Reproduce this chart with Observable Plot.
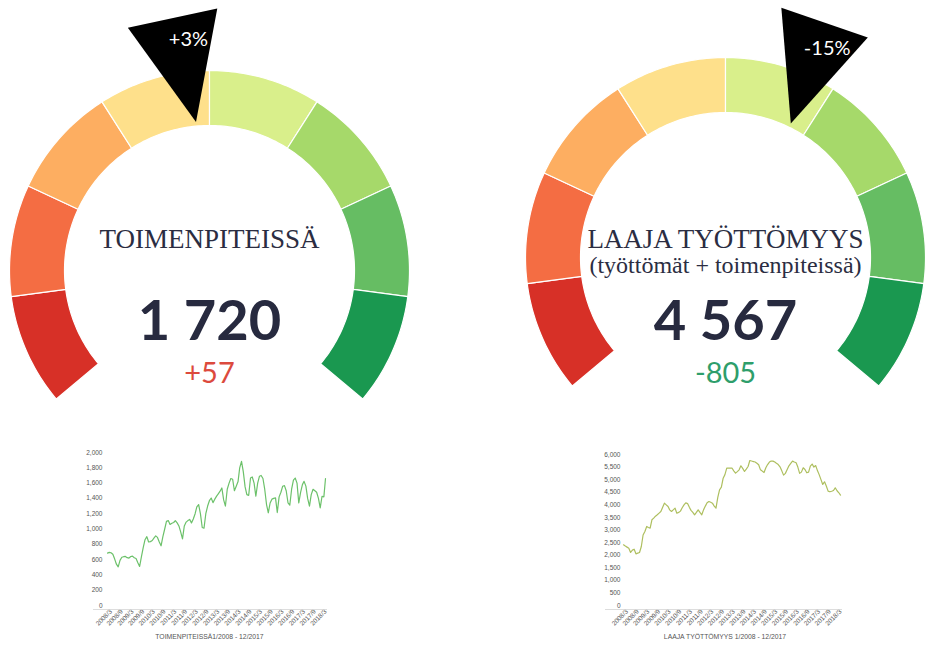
<!DOCTYPE html>
<html><head><meta charset="utf-8">
<script src="https://cdn.jsdelivr.net/npm/d3@7"></script>
<script src="https://cdn.jsdelivr.net/npm/@observablehq/plot@0.6"></script>
<style>
html,body{margin:0;padding:0;background:#fff;}
#root{position:relative;width:939px;height:654px;overflow:hidden;background:#fff;}
.p{position:absolute;}
.p svg{overflow:visible;}
</style></head><body><div id="root"></div>
<script>
// ---------- DATA ----------
const gaugeColors = ["#d73027","#f46d43","#fdae61","#fee08b","#d9ef8b","#a6d96a","#66bd63","#1a9850"];
const gaugeTitles = ["TOIMENPITEISSÄ", "LAAJA TYÖTTÖMYYS"];
const gaugeSubtitles = ["", "(työttömät + toimenpiteissä)"];
const gaugeValues = [1720, 4567];
const gaugeChanges = [57, -805];
const gaugePct = [3, -15];

// monthly values 2008/1 ... 2018/3
const toimenpiteissa = [
  685, 695, 690, 670, 610, 540, 505, 590, 630, 638, 641, 625,
  620, 640, 645, 625, 615, 560, 510, 640, 760, 860, 900, 830,
  835, 850, 880, 910, 890, 830, 780, 900, 1000, 1100, 1110, 1060,
  1075, 1085, 1110, 1080, 1040, 960, 870, 1040, 1090, 1110, 1125, 1080,
  1130, 1200, 1290, 1320, 1200, 1020, 1010, 1200, 1300, 1370, 1405, 1345,
  1390, 1430, 1460, 1494, 1537, 1380, 1300, 1520, 1600, 1660, 1650, 1500,
  1560, 1620, 1800, 1884, 1750, 1550, 1450, 1440, 1666, 1680, 1600, 1428,
  1600, 1690, 1700, 1660, 1520, 1320, 1212, 1340, 1390, 1400, 1407, 1215,
  1420, 1480, 1558, 1567, 1500, 1340, 1311, 1520, 1640, 1666, 1600, 1342,
  1480, 1580, 1623, 1560, 1400, 1299, 1450, 1519, 1500, 1480, 1400, 1277,
  1428, 1420, 1660
];
const laajaTyottomyys = [
  2410, 2360, 2320, 2277, 2106, 2200, 2238, 2053, 2080, 2106, 2345, 2800,
  2940, 3140, 3100, 3073, 3405, 3470, 3550, 3604, 3670, 3736, 3900, 4066,
  4000, 3934, 3800, 3736, 3800, 3867, 3668, 3700, 3750, 3882, 4000, 4081,
  4050, 3900, 3780, 3700, 3604, 3700, 3803, 3700, 3604, 3800, 3950, 4080,
  4133, 4100, 4066, 3950, 3867, 4300, 4598, 4700, 5059, 5200, 5456, 5460,
  5456, 5456, 5350, 5258, 5320, 5390, 5552, 5450, 5325, 5420, 5524, 5762,
  5740, 5720, 5700, 5650, 5590, 5390, 5340, 5285, 5470, 5600, 5700, 5740,
  5737, 5700, 5650, 5600, 5512, 5350, 5180, 5250, 5400, 5550, 5650, 5737,
  5700, 5671, 5500, 5250, 5300, 5472, 5406, 5274, 5300, 5539, 5620, 5500,
  5560, 5350, 5200, 5000, 4810, 4916, 4750, 4545, 4518, 4540, 4571, 4677,
  4560, 4479, 4386
];
const xTickLabels = ["2008/3","2008/9","2009/3","2009/9","2010/3","2010/9","2011/3","2011/9","2012/3","2012/9",
  "2013/3","2013/9","2014/3","2014/9","2015/3","2015/9","2016/3","2016/9","2017/3","2017/9","2018/3"];
const yTicksLeft = [0,200,400,600,800,1000,1200,1400,1600,1800,2000];
const yTicksRight = [0,500,1000,1500,2000,2500,3000,3500,4000,4500,5000,5500,6000];
const captions = ["TOIMENPITEISSÄ1/2008 - 12/2017", "LAAJA TYÖTTÖMYYS 1/2008 - 12/2017"];

// ---------- HELPERS ----------
const root = document.getElementById("root");
function place(el, left, top) {
  const d = document.createElement("div");
  d.className = "p"; d.style.left = left + "px"; d.style.top = top + "px";
  d.appendChild(el); root.appendChild(d);
}
const fmtNum = d3.formatLocale({thousands: " ", grouping: [3], decimal: ","}).format(",d");
const fmtSigned = v => (v > 0 ? "+" : "-") + Math.abs(v);

const R = 200, INNER = 0.725, START = -130, SPAN = 260;
const angle = d3.scaleLinear().domain([75, -75]).range([START, START + SPAN]);
const rad = a => a * Math.PI / 180;
const polar = (a, r) => ({x: r * Math.sin(rad(a)), y: r * Math.cos(rad(a))});

function gaugePlot(k, cx, cy, W, H) {
  const step = SPAN / gaugeColors.length;
  const n = 30;
  const segs = gaugeColors.flatMap((color, i) => {
    const a0 = START + i * step, a1 = a0 + step;
    const outer = d3.range(0, n + 1).map(j => ({seg: i, color, ...polar(a0 + (a1 - a0) * j / n, 1)}));
    const inner = d3.range(n, -1, -1).map(j => ({seg: i, color, ...polar(a0 + (a1 - a0) * j / n, INNER)}));
    return outer.concat(inner);
  });
  const t = angle(gaugePct[k]);
  const needle = [polar(t, 0.745), polar(t - 13.4, 1.28), polar(t + 6.9, 1.31)];
  const pctLabel = [{...polar(t, 1.16), label: fmtSigned(gaugePct[k]) + "%"}];
  const txt = (text, absY, o) => Plot.text([text], {
    x: () => 0, y: () => 0, text: d => d, dy: absY - cy,
    lineAnchor: "bottom", textAnchor: "middle", ...o
  });
  const marks = [
    Plot.line(segs, {x: "x", y: "y", z: "seg", fill: "color", stroke: "#ffffff", strokeWidth: 1.2, curve: "linear-closed"}),
    Plot.line(needle, {x: "x", y: "y", fill: "#000000", stroke: "none", curve: "linear-closed"}),
    Plot.text(pctLabel, {x: "x", y: "y", text: "label", fill: "#ffffff", fontSize: 20, fontFamily: "Lato", lineAnchor: "middle"}),
    txt(gaugeTitles[k], 247, {fontSize: 27, fontFamily: "Liberation Serif", fill: "#2b2d42"}),
    txt(fmtNum(gaugeValues[k]), 339, {fontSize: 56, fontFamily: "Lato", fontWeight: 700, fill: "#272a3f"}),
    txt(fmtSigned(gaugeChanges[k]), 382, {fontSize: 29, fontFamily: "Lato", fill: gaugeChanges[k] > 0 ? "#dc4a3d" : "#2e9e6b"})
  ];
  if (gaugeSubtitles[k]) marks.push(txt(gaugeSubtitles[k], 272, {fontSize: 24, fontFamily: "Liberation Serif", fill: "#2b2d42"}));
  return Plot.plot({
    width: W, height: H, margin: 0,
    style: {background: "transparent", overflow: "visible"},
    x: {domain: [-cx / R, (W - cx) / R], range: [0, W], axis: null},
    y: {domain: [-(H - cy) / R, cy / R], range: [H, 0], axis: null},
    marks
  });
}

const tickDates = xTickLabels.map(s => { const [y, m] = s.split("/").map(Number); return new Date(Date.UTC(y, m - 1, 1)); });

function lineChart(values, yTicks, color, caption, geo) {
  const data = values.map((v, i) => ({date: new Date(Date.UTC(2008, i, 1)), v}));
  return Plot.plot({
    width: geo.width, height: geo.height,
    marginLeft: geo.ml, marginRight: geo.mr, marginTop: geo.mt, marginBottom: geo.mb,
    style: {fontFamily: "Liberation Sans, Arial, sans-serif", fontSize: "6.5px", color: "#555", background: "transparent", overflow: "visible"},
    x: {type: "utc", domain: [data[0].date, data[data.length - 1].date], ticks: tickDates,
        tickFormat: d => `${d.getUTCFullYear()}/${d.getUTCMonth() + 1}`, tickRotate: -45, tickSize: 0, tickPadding: 5, label: null},
    y: {domain: [0, yTicks[yTicks.length - 1]], ticks: yTicks, tickFormat: d3.format(","), tickSize: 0, tickPadding: geo.tp, label: null},
    marks: [
      Plot.ruleY([0], {stroke: "#d4d4d4", strokeWidth: 0.8, dy: 4, insetLeft: geo.il, insetRight: -2}),
      Plot.line(data, {x: "date", y: "v", stroke: color, strokeWidth: 1.2}),
      Plot.text([caption], {frameAnchor: "bottom", text: d => d, dy: 33, dx: geo.cdx, lineAnchor: "bottom", fontSize: 6.8, fill: "#555"})
    ]
  });
}

// ---------- RENDER ----------
place(gaugePlot(0, 209, 270, 470, 430), 0, 0);
place(gaugePlot(1, 255, 257, 469, 430), 470, 0);
place(lineChart(toimenpiteissa, yTicksLeft, "#6cc16a", captions[0],
  {width: 340, height: 214, ml: 107, mr: 15, mt: 12, mb: 49, tp: 5, il: -14, cdx: -7}), 0, 440);
place(lineChart(laajaTyottomyys, yTicksRight, "#aebf5f", captions[1],
  {width: 280, height: 214, ml: 43, mr: 20, mt: 14, mb: 49, tp: 3, il: -18, cdx: -7}), 580, 440);
</script></body></html>
